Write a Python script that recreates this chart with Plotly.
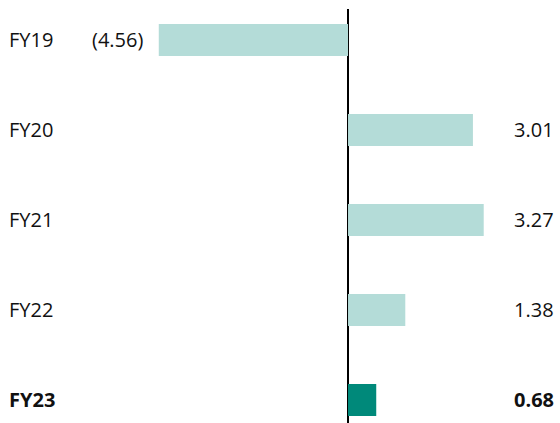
import plotly.graph_objects as go

categories = ["FY19", "FY20", "FY21", "FY22", "FY23"]
values = [-4.56, 3.01, 3.27, 1.38, 0.68]
value_labels = ["(4.56)", "3.01", "3.27", "1.38", "0.68"]
highlight = [False, False, False, False, True]

LIGHT = "#b4dcd8"
DARK = "#00897a"
TEXT = "#111111"
FONT = "Open Sans"
SIZE = 20

colors = [DARK if h else LIGHT for h in highlight]

fig = go.Figure(go.Bar(
    x=values, y=categories, orientation="h",
    marker=dict(color=colors, line=dict(width=0)),
    width=0.356, hoverinfo="skip",
))

annotations = []
for cat, v, lab, h in zip(categories, values, value_labels, highlight):
    c = f"<b>{cat}</b>" if h else cat
    l = f"<b>{lab}</b>" if h else lab
    annotations.append(dict(x=7 / 560, xref="paper", y=cat, yref="y", text=c,
                            xanchor="left", yanchor="middle", showarrow=False,
                            font=dict(family=FONT, size=SIZE, color=TEXT)))
    if v < 0:
        annotations.append(dict(x=v, xref="x", y=cat, yref="y", text=l,
                                xanchor="right", yanchor="middle", showarrow=False,
                                xshift=-14,
                                font=dict(family=FONT, size=SIZE, color=TEXT)))
    else:
        annotations.append(dict(x=556 / 560, xref="paper", y=cat, yref="y", text=l,
                                xanchor="right", yanchor="middle", showarrow=False,
                                font=dict(family=FONT, size=SIZE, color=TEXT)))

fig.update_layout(
    width=560, height=423,
    margin=dict(l=0, r=0, t=9, b=0),
    paper_bgcolor="white", plot_bgcolor="white",
    showlegend=False,
    xaxis=dict(range=[-8.386, 5.108], showgrid=False, showticklabels=False,
               zeroline=True, zerolinecolor="black", zerolinewidth=2,
               fixedrange=True),
    yaxis=dict(range=[4.256, -0.344], showgrid=False, showticklabels=False,
               zeroline=False, fixedrange=True, type="category"),
    annotations=annotations,
)

fig.write_html("out.html")
